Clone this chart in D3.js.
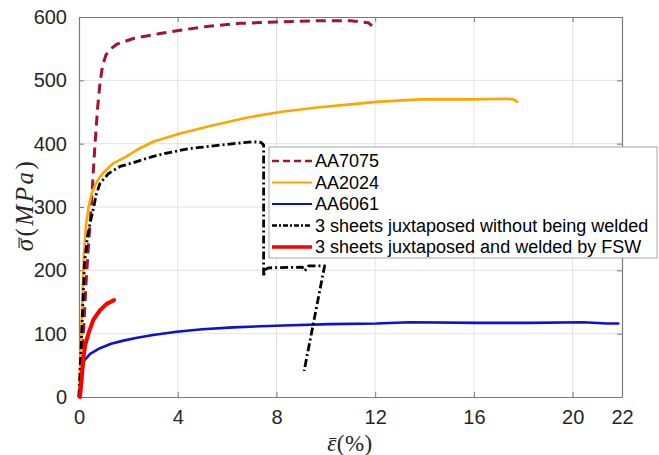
<!DOCTYPE html>
<html>
<head>
<meta charset="utf-8">
<script src="https://cdn.jsdelivr.net/npm/d3@7"></script>
<style>
  html, body { margin: 0; padding: 0; background: #fff; }
  svg { display: block; }
</style>
</head>
<body>
<svg id="chart" width="659" height="455"></svg>
<script>
// ---- data (strain %, stress MPa) ----
const xTicks = [0, 4, 8, 12, 16, 20, 22];
const yTicks = [0, 100, 200, 300, 400, 500, 600];
const seriesNames = ["AA7075", "AA2024", "AA6061",
  "3 sheets juxtaposed without being welded",
  "3 sheets juxtaposed and welded by FSW"];

const aa7075 = [[0,0],[0.15,80],[0.3,190],[0.42,260],[0.49,295],[0.57,350],[0.65,400],[0.75,455],[0.85,495],[0.95,522],[1.09,540],[1.3,550],[1.53,557],[2.2,566],[3.28,574],[4.09,579],[5.17,585],[6.52,590],[8.0,592],[9.63,594],[11.0,594],[11.72,591],[11.87,586]];
const aa2024 = [[0,0],[0.1,110],[0.2,225],[0.28,270],[0.38,298],[0.5,320],[0.65,334],[0.8,345],[0.99,354],[1.39,369],[1.93,380],[2.34,390],[3.0,403],[4.09,416],[5.44,429],[6.79,441],[8.14,450],[9.63,457],[11.0,462],[12.06,466],[13.82,470],[15.98,470],[17.33,471],[17.6,470],[17.75,466]];
const aa6061 = [[0,0],[0.1,35],[0.2,57],[0.45,68],[0.85,77],[1.3,84],[1.8,89],[2.3,93],[3.0,98],[3.96,103],[5.0,107],[6.25,110],[8.28,113],[10.17,115],[12.06,116],[13.4,118],[16.1,117],[18.3,117],[20.43,118],[21.38,116],[21.85,116]];
const sheets = [[0,0],[0.12,110],[0.22,210],[0.35,255],[0.48,280],[0.58,297],[0.7,320],[0.85,337],[1.2,353],[1.66,364],[2.2,370],[3.01,380],[3.55,385],[4.43,392],[4.9,394],[6.25,400],[7.06,403],[7.38,402],[7.48,398],[7.48,190],[7.52,201],[7.7,204],[9.05,205],[9.15,199],[9.3,207],[9.95,207],[9.12,41]];
const fsw = [[0.04,0],[0.1,25],[0.17,58],[0.24,80],[0.38,100],[0.58,122],[0.85,137],[1.12,147],[1.42,153]];

const seriesData = [aa7075, aa2024, aa6061, sheets, fsw];
const seriesColors = ["#A2142F", "#FFA500", "#1010D0", "#000000", "#FF0000"];
const seriesWidths = [3, 2.6, 2.6, 2.8, 4];
const seriesDash = ["10,6", null, null, "8,3,2,3", null];
const legendWidths = [2.5, 2, 2, 2.5, 3.5];
const legendDash = ["7,4", null, null, "5,2,2,2", null];

// ---- layout ----
const L = 79, R = 622, T = 17, B = 397;
const svg = d3.select("#chart");
const x = d3.scaleLinear().domain([0, 22]).range([L, R]);
const y = d3.scaleLinear().domain([0, 600]).range([B, T]);

svg.append("rect").attr("width", 659).attr("height", 455).attr("fill", "#fff");

// grid
const grid = svg.append("g");
grid.selectAll(".gx").data(xTicks.filter(d => d > 0 && d < 22)).join("line")
  .attr("x1", d => x(d)).attr("x2", d => x(d)).attr("y1", T).attr("y2", B)
  .attr("stroke", "#e3e3e3").attr("stroke-width", 1);
grid.selectAll(".gy").data(yTicks.filter(d => d > 0 && d < 600)).join("line")
  .attr("x1", L).attr("x2", R).attr("y1", d => y(d)).attr("y2", d => y(d))
  .attr("stroke", "#e3e3e3").attr("stroke-width", 1);

// axes
const axisColor = "#7a7a7a";
const font = "'Liberation Sans', Arial, sans-serif";
const xAxis = svg.append("g").attr("transform", `translate(0,${B})`)
  .call(d3.axisBottom(x).tickValues(xTicks).tickSizeInner(-5).tickSizeOuter(0).tickPadding(13));
const yAxis = svg.append("g").attr("transform", `translate(${L},0)`)
  .call(d3.axisLeft(y).tickValues(yTicks).tickSizeInner(-5).tickSizeOuter(0).tickPadding(12));
const xTop = svg.append("g").attr("transform", `translate(0,${T})`)
  .call(d3.axisTop(x).tickValues(xTicks).tickSizeInner(-5).tickSizeOuter(0).tickFormat(""));
const yRight = svg.append("g").attr("transform", `translate(${R},0)`)
  .call(d3.axisRight(y).tickValues(yTicks).tickSizeInner(-5).tickSizeOuter(0).tickFormat(""));
[xAxis, yAxis, xTop, yRight].forEach(g => {
  g.select(".domain").attr("stroke", axisColor).attr("stroke-width", 1.2);
  g.selectAll(".tick line").attr("stroke", axisColor).attr("stroke-width", 1);
  g.selectAll(".tick text").attr("fill", "#262626").attr("font-size", 20).attr("font-family", font);
});

// series
const line = d3.line().x(d => x(d[0])).y(d => y(d[1]));
const plot = svg.append("g");
seriesData.forEach((data, i) => {
  plot.append("path").datum(data)
    .attr("d", line)
    .attr("fill", "none")
    .attr("stroke", seriesColors[i])
    .attr("stroke-width", seriesWidths[i])
    .attr("stroke-linejoin", "round")
    .attr("stroke-linecap", seriesDash[i] ? "butt" : "round")
    .attr("stroke-dasharray", seriesDash[i]);
});

// legend
const lg = svg.append("g");
const lgX = 269, lgY = 147, lgW = 388, lgH = 111, rowH = 21.5, row0 = 161;
lg.append("rect").attr("x", lgX).attr("y", lgY).attr("width", lgW).attr("height", lgH)
  .attr("fill", "#fff").attr("stroke", "#a6a6a6").attr("stroke-width", 1);
seriesNames.forEach((name, i) => {
  const yy = row0 + i * rowH;
  lg.append("line").attr("x1", 272).attr("x2", 312).attr("y1", yy).attr("y2", yy)
    .attr("stroke", seriesColors[i]).attr("stroke-width", legendWidths[i])
    .attr("stroke-dasharray", legendDash[i]);
  lg.append("text").attr("x", 315).attr("y", yy).attr("dy", "0.35em")
    .attr("font-family", font).attr("font-size", 18).attr("fill", "#000").text(name);
});

// axis labels (letters with an overbar drawn above the first glyph)
const serif = "'Liberation Serif', 'Times New Roman', serif";
function barFirst(g, textSel) {
  const ext = textSel.node().getExtentOfChar(0);
  g.append("line")
    .attr("x1", ext.x + ext.width * 0.22).attr("x2", ext.x + ext.width * 0.95)
    .attr("y1", ext.y + ext.height * 0.30).attr("y2", ext.y + ext.height * 0.30)
    .attr("stroke", "#262626").attr("stroke-width", 1.1);
}

const xg = svg.append("g").attr("transform", "translate(350,451)");
const xl = xg.append("text").attr("text-anchor", "middle")
  .attr("font-family", serif).attr("font-size", 23).attr("fill", "#262626")
  .attr("letter-spacing", 0.5);
xl.append("tspan").attr("font-style", "italic").text("\u03B5");
xl.append("tspan").text("(%)");
barFirst(xg, xl);

const yg = svg.append("g").attr("transform", "translate(33,205) rotate(-90)");
const yl = yg.append("text").attr("text-anchor", "middle")
  .attr("font-family", serif).attr("font-size", 25).attr("fill", "#262626")
  .attr("letter-spacing", 2.5);
yl.append("tspan").attr("font-style", "italic").text("\u03C3");
yl.append("tspan").text("(");
yl.append("tspan").attr("font-style", "italic").text("MPa");
yl.append("tspan").text(")");
barFirst(yg, yl);
</script>
</body>
</html>
